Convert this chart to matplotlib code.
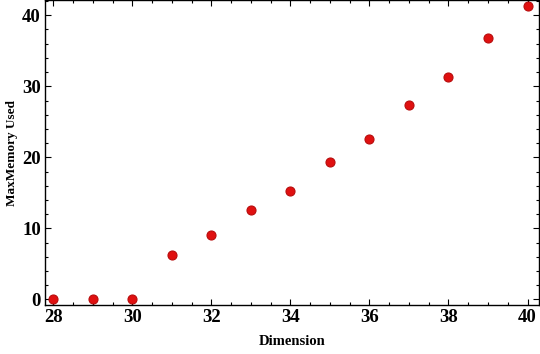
import matplotlib
matplotlib.use('Agg')
import matplotlib.pyplot as plt
from matplotlib.ticker import MultipleLocator

# Data
dimension = [28, 29, 30, 31, 32, 33, 34, 35, 36, 37, 38, 39, 40]
max_memory = [0.1, 0.1, 0.1, 6.3, 9.1, 12.6, 15.3, 19.3, 22.6, 27.4, 31.3, 36.8, 41.3]

plt.rcParams['font.family'] = ['Liberation Serif', 'DejaVu Serif']

fig = plt.figure(figsize=(5.4, 3.54), dpi=100)
ax = fig.add_axes([0.0833, 0.138, 0.9148, 0.861])

ax.plot(dimension, max_memory, 'o', color='#e01010', markeredgecolor='#b80d0d',
        markersize=6.5, markeredgewidth=0.8, clip_on=False)

ax.set_xlim(27.79, 40.29)
ax.set_ylim(-0.8, 42.1)

ax.xaxis.set_major_locator(MultipleLocator(2))
ax.xaxis.set_minor_locator(MultipleLocator(0.5))
ax.yaxis.set_major_locator(MultipleLocator(10))
ax.yaxis.set_minor_locator(MultipleLocator(2))

ax.tick_params(which='both', direction='in', top=True, right=True, width=0.8)
ax.tick_params(which='major', length=4, labelsize=13.5, pad=3)
ax.tick_params(which='minor', length=2.5)
for lbl in ax.get_xticklabels() + ax.get_yticklabels():
    lbl.set_fontweight('bold')
for s in ax.spines.values():
    s.set_linewidth(1.0)

ax.set_xlabel('Dimension', fontsize=10.5, fontweight='bold', labelpad=6)
ax.set_ylabel('MaxMemory Used', fontsize=9.5, fontweight='bold', labelpad=3)

fig.savefig('out.png', dpi=100)
